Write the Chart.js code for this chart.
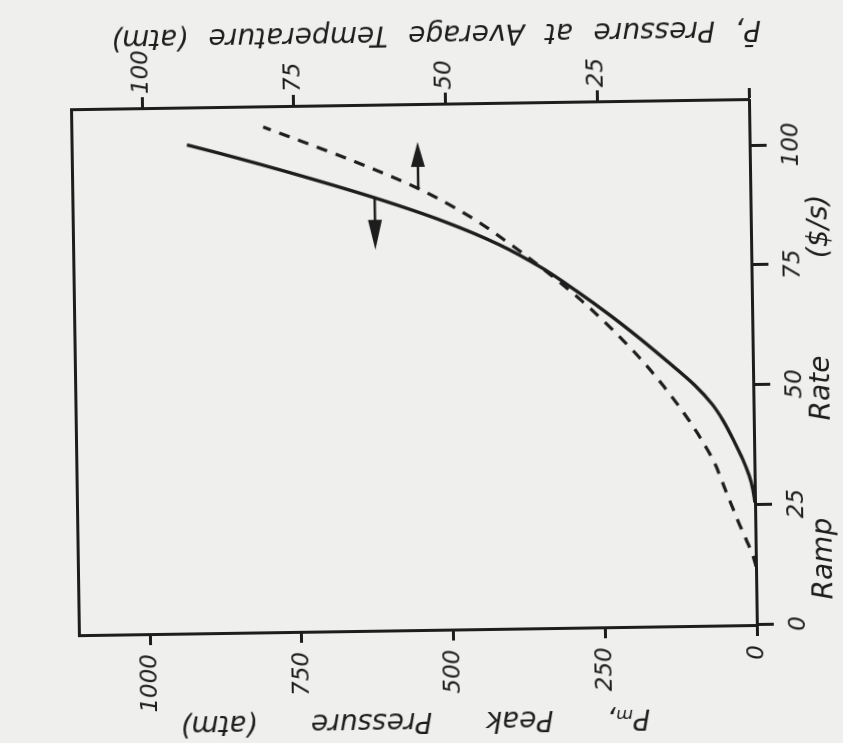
<!DOCTYPE html>
<html>
<head>
<meta charset="utf-8">
<script src="https://cdn.jsdelivr.net/npm/chart.js@4.4.0/dist/chart.umd.min.js"></script>
<style>
    html, body { margin: 0; padding: 0; width: 843px; height: 743px; overflow: hidden; background: #efefed; }
    /* the scanned figure is lying on its side, so the chart is drawn upright and turned */
    #wrap { position: absolute; left: 50px; top: -50px; width: 743px; height: 843px;
            transform: rotate(-90.86deg); transform-origin: 50% 50%; }
</style>
</head>
<body>
<div id="wrap"><canvas id="chart-ramp" width="743" height="843" style="width:743px;height:843px"></canvas></div>
<script>
// Peak pressure Pm (atm) vs ramp rate ($/s), left axis
const rampPeak = [25.4, 28, 31, 34.4, 38, 42.7, 46, 50, 55, 60, 65, 70, 75, 80, 85, 90, 95, 100, 101.8];
const peakPressure = [0, 3, 9, 19, 32, 51, 68, 96, 140, 186, 235, 288, 345, 415, 505, 615, 740, 875, 927];

// Pressure at average temperature (atm) vs ramp rate, right axis
const rampAvg = [12, 14, 19, 24, 29, 34.4, 40, 45, 50, 55, 60, 65, 70, 76, 80, 85.9, 92.1, 98, 105.3];
const avgPressure = [0, 0.4, 2, 3.6, 5.1, 6.8, 9.3, 11.9, 14.8, 18, 21.6, 25.5, 29.8, 35.5, 39.6, 46.2, 54.9, 65.5, 80.1];

const rampTicks = [0, 25, 50, 75, 100];
const peakTicks = [0, 250, 500, 750, 1000];
const avgTicks = [0, 25, 50, 75, 100];

// arrows telling which axis each curve belongs to
const arrowAxis = ['y', 'y2'];
const arrowLevel = [619, 54.7];
const arrowFrom = [90.3, 91.8];
const arrowTo = [79.3, 101.7];

const rampTitle = 'Ramp Rate ($/s)';
const peakTitle = 'P\u2098, Peak Pressure (atm)';
const avgTitle = 'P\u0304, Pressure at Average Temperature (atm)';

const ink = '#1d1d1d';
const tickFont = { family: 'DejaVu Sans', size: 23, style: 'italic' };
const titleFont = 'italic 28px "DejaVu Sans"';

function drawTitle(ctx, text, x, y, angle, width) {
    ctx.save();
    ctx.translate(x, y);
    ctx.rotate(angle);
    ctx.font = titleFont;
    ctx.fillStyle = ink;
    ctx.textAlign = 'center';
    ctx.textBaseline = 'middle';
    let gaps = text.split(' ').length - 1;
    let extra = width - ctx.measureText(text).width;
    if (gaps > 0 && extra > 0) ctx.wordSpacing = (extra / gaps) + 'px';
    ctx.fillText(text, 0, 0);
    ctx.restore();
}

function drawArrow(ctx, x1, y1, x2, y2, len, half) {
    let a = Math.atan2(y2 - y1, x2 - x1);
    let c = Math.cos(a), s = Math.sin(a);
    ctx.beginPath();
    ctx.moveTo(x1, y1);
    ctx.lineTo(x2 - len * 0.5 * c, y2 - len * 0.5 * s);
    ctx.stroke();
    ctx.beginPath();
    ctx.moveTo(x2, y2);
    ctx.lineTo(x2 - len * c + half * s, y2 - len * s - half * c);
    ctx.lineTo(x2 - len * c - half * s, y2 - len * s + half * c);
    ctx.closePath();
    ctx.fill();
}

const extras = {
    id: 'extras',
    afterDraw(chart) {
        const ctx = chart.ctx;
        const xs = chart.scales.x;
        ctx.save();
        ctx.strokeStyle = ink;
        ctx.fillStyle = ink;
        ctx.lineWidth = 2.5;
        for (let i = 0; i < arrowAxis.length; i++) {
            let ys = chart.scales[arrowAxis[i]];
            let yy = ys.getPixelForValue(arrowLevel[i]);
            drawArrow(ctx, xs.getPixelForValue(arrowFrom[i]), yy, xs.getPixelForValue(arrowTo[i]), yy, i === 0 ? 30 : 25, 7);
        }
        ctx.restore();
        // axis titles (hand lettered, wide word gaps)
        drawTitle(ctx, peakTitle, 23, 410, -Math.PI / 2, 470);
        drawTitle(ctx, rampTitle, 340, 822, 0, 405);
        drawTitle(ctx, avgTitle, 710, 441, -Math.PI / 2, 650);
    }
};

const ctr = document.getElementById('chart-ramp').getContext('2d');
const chart_ramp = new Chart(ctr, {
    type: 'line',
    data: {
        datasets: [{
            label: 'Peak pressure',
            data: rampPeak.map((r, i) => ({ x: r, y: peakPressure[i] })),
            yAxisID: 'y',
            borderColor: ink,
            borderWidth: 3.4,
            pointRadius: 0,
            cubicInterpolationMode: 'monotone',
            fill: false
        }, {
            label: 'Pressure at average temperature',
            data: rampAvg.map((r, i) => ({ x: r, y: avgPressure[i] })),
            yAxisID: 'y2',
            borderColor: ink,
            borderWidth: 3.2,
            borderDash: [11, 9],
            pointRadius: 0,
            cubicInterpolationMode: 'monotone',
            fill: false
        }]
    },
    options: {
        responsive: false,
        animation: false,
        devicePixelRatio: 1,
        layout: { padding: 0 },
        plugins: {
            legend: { display: false },
            tooltip: { enabled: false }
        },
        scales: {
            x: {
                type: 'linear',
                position: 'bottom',
                min: -0.4,
                max: 109.4,
                afterBuildTicks: s => { s.ticks = rampTicks.map(v => ({ value: v })); },
                afterFit: s => { s.height = 90; },
                grid: { drawOnChartArea: false, tickLength: 17, tickWidth: 3, tickColor: ink },
                border: { color: ink, width: 3 },
                ticks: { font: tickFont, color: ink, padding: 11, maxRotation: 0, callback: v => String(v) }
            },
            x2: {
                type: 'linear',
                position: 'top',
                min: -0.4,
                max: 109.4,
                afterFit: s => { s.height = 75; },
                grid: { display: false },
                border: { color: ink, width: 3 },
                ticks: { display: false }
            },
            y: {
                type: 'linear',
                position: 'left',
                min: 0,
                max: 1117,
                afterBuildTicks: s => { s.ticks = peakTicks.map(v => ({ value: v })); },
                afterFit: s => { s.width = 112; },
                grid: { drawOnChartArea: false, tickLength: 10, tickWidth: 3, tickColor: ink },
                border: { color: ink, width: 3 },
                ticks: { font: tickFont, color: ink, padding: 9, callback: v => String(v) }
            },
            y2: {
                type: 'linear',
                position: 'right',
                min: 0,
                max: 111.7,
                afterBuildTicks: s => { s.ticks = avgTicks.map(v => ({ value: v })); },
                afterFit: s => { s.width = 105; },
                grid: { drawOnChartArea: false, tickLength: 12, tickWidth: 3, tickColor: ink },
                border: { color: ink, width: 3 },
                ticks: { font: tickFont, color: ink, padding: 3, callback: v => v === 0 ? '' : String(v) }
            }
        }
    },
    plugins: [extras]
});
</script>
</body>
</html>
